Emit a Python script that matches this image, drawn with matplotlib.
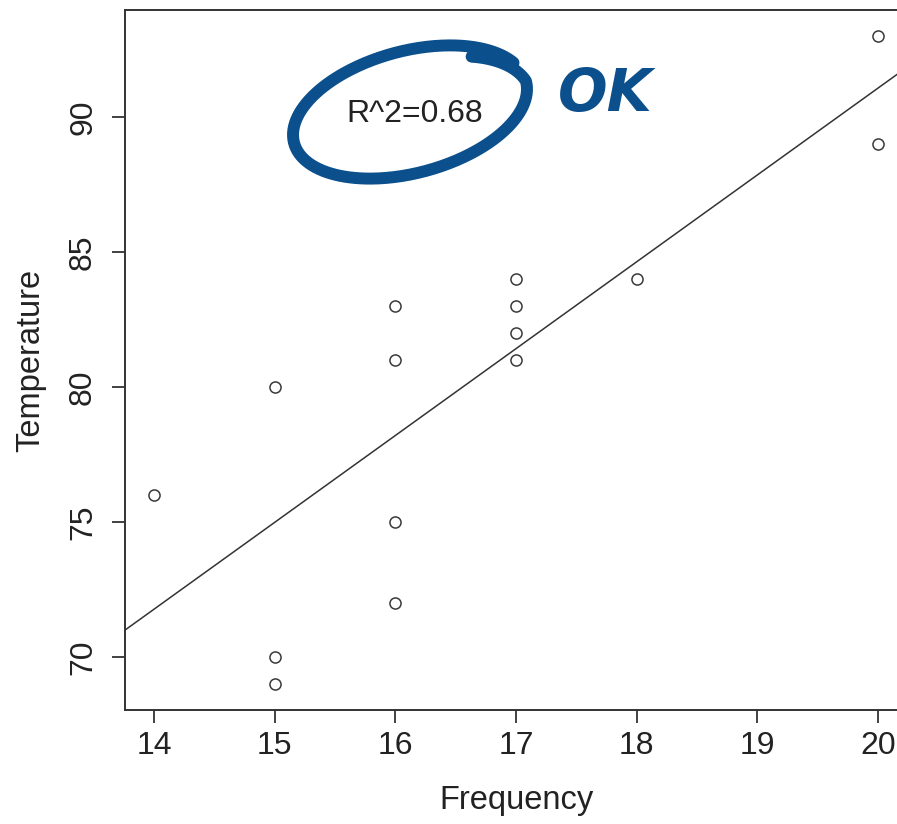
"""Scatter of temperature vs frequency with a least-squares line and a hand-drawn note.

python plot.py
"""

from __future__ import annotations

import numpy as np
import matplotlib

matplotlib.use("Agg")
import matplotlib.pyplot as plt
from matplotlib.lines import Line2D
from matplotlib.transforms import Affine2D

OUTPUT_PATH = "out.png"

frequency = [14, 15, 15, 15, 16, 16, 16, 16, 17, 17, 17, 17, 18, 20, 20]
temperature = [76, 80, 70, 69, 83, 81, 75, 72, 84, 83, 82, 81, 84, 93, 89]
x_ticks = [14, 15, 16, 17, 18, 19, 20]
y_ticks = [70, 75, 80, 85, 90]
r2_label = "R^2=0.68"
note_label = "OK"

INK = "#333333"
TEXT = "#222222"
PEN_BLUE = "#0b4f8c"
W_PX, H_PX = 897, 824


def pen_loop(fig, cx, cy, a, b, angle_deg, lw):
    # rough hand-drawn ellipse in image pixels (y down), one loop plus a bit of overlap
    th = np.deg2rad(angle_deg)
    u = np.array([np.cos(th), np.sin(th)])
    v = np.array([-np.sin(th), np.cos(th)])
    t = np.deg2rad(np.linspace(45, 45 - 385, 400))
    ramp = np.clip((np.deg2rad(45) - t) / np.deg2rad(45), 0, 1)
    r = 0.87 + 0.13 * ramp
    px = cx + r * (a * np.cos(t) * u[0] + b * np.sin(t) * v[0])
    py_up = (H_PX - cy) + r * (a * np.cos(t) * u[1] + b * np.sin(t) * v[1])
    fig.add_artist(Line2D(px, py_up, transform=Affine2D(), color=PEN_BLUE,
                          linewidth=lw, solid_capstyle="round", solid_joinstyle="round"))


def plot(output_path: str) -> None:
    plt.rcParams["font.family"] = ["Liberation Sans", "DejaVu Sans"]
    fig = plt.figure(figsize=(W_PX / 100, H_PX / 100), dpi=100)
    ax = fig.add_axes([125 / W_PX, 114 / H_PX, 782 / W_PX, 700 / H_PX])

    ax.plot(frequency, temperature, linestyle="none", marker="o", markersize=8,
            markerfacecolor="none", markeredgecolor="#3a3a3a", markeredgewidth=1.1)

    slope, intercept = np.polyfit(frequency, temperature, 1)
    ax.axline((0, intercept), slope=slope, color=INK, linewidth=1.1)

    xr = max(frequency) - min(frequency)
    yr = max(temperature) - min(temperature)
    ax.set_xlim(min(frequency) - 0.04 * xr, max(frequency) + 0.04 * xr)
    ax.set_ylim(min(temperature) - 0.04 * yr, max(temperature) + 0.04 * yr)

    ax.set_xticks(x_ticks)
    ax.set_yticks(y_ticks)
    ax.set_yticklabels([str(v) for v in y_ticks], rotation=90, va="center")
    ax.tick_params(axis="both", direction="out", length=9.4, width=1.3, color=INK,
                   labelsize=23, labelcolor=TEXT)
    ax.tick_params(axis="x", pad=6)
    ax.tick_params(axis="y", pad=10)
    for side in ("left", "bottom", "top", "right"):
        ax.spines[side].set_color(INK)
        ax.spines[side].set_linewidth(1.4)

    ax.set_xlabel("Frequency", fontsize=23.5, color=TEXT, labelpad=17)
    ax.set_ylabel("Temperature", fontsize=23.5, color=TEXT, labelpad=16)

    ax.text(16.16, 90.1, r2_label, fontsize=23, color=TEXT, ha="center", va="center")

    # pen annotation
    pen_loop(fig, 410, 112, 120, 61, 15, 8.6)
    fig.text(605 / W_PX, 1 - 94 / H_PX, note_label, fontsize=42, color=PEN_BLUE,
             fontweight="heavy", fontstyle="italic", family="DejaVu Sans",
             ha="center", va="center")

    fig.savefig(output_path, dpi=100)
    print(f"Saved {output_path}")


if __name__ == "__main__":
    plot(OUTPUT_PATH)
